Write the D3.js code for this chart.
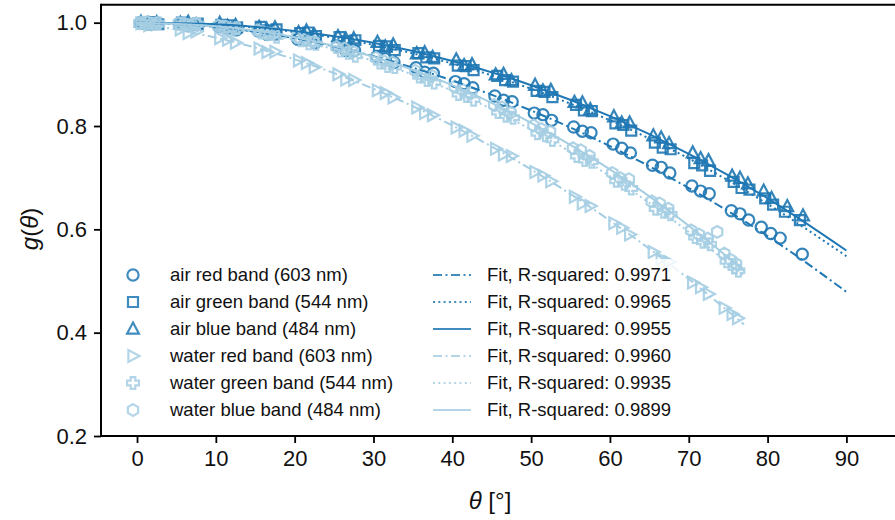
<!DOCTYPE html>
<html><head><meta charset="utf-8">
<script src="https://cdn.jsdelivr.net/npm/d3@7"></script>
<style>body{margin:0;background:#fff}svg{display:block}</style>
</head><body><svg id="c" width="895" height="520"></svg>
<script>
// ---------- DATA ----------
const xTicks = [0,10,20,30,40,50,60,70,80,90];
const yTicks = [0.2,0.4,0.6,0.8,1.0];

const airRedX = [0.4,1.5,2.6, 5.4,6.5,7.6, 10.4,11.5,12.6, 15.4,16.5,17.6, 20.4,21.5,22.6, 25.4,26.5,27.6, 30.4,31.5,32.6, 35.4,36.5,37.6, 40.4,41.5,42.6, 45.4,46.5,47.6, 50.4,51.5,52.6, 55.4,56.5,57.6, 60.4,61.5,62.6, 65.4,66.5,67.6, 70.4,71.5,72.6, 75.4,76.5,77.6, 79.2,80.4,81.6, 84.4];
const airRedY = [1.000,0.997,0.999, 0.999,0.994,0.996, 0.992,0.989,0.986, 0.984,0.977,0.978, 0.968,0.967,0.961, 0.955,0.946,0.946, 0.934,0.930,0.923, 0.913,0.904,0.902, 0.886,0.882,0.874, 0.858,0.850,0.847, 0.825,0.822,0.811, 0.798,0.790,0.787, 0.765,0.757,0.748, 0.724,0.720,0.709, 0.684,0.674,0.669, 0.636,0.630,0.618, 0.604,0.592,0.583, 0.552];

const airGreenX = [0.7,1.7,2.7, 5.7,6.7,7.7, 10.7,11.7,12.7, 15.7,16.7,17.7, 20.7,21.7,22.7, 25.7,26.7,27.7, 30.7,31.7,32.7, 35.7,36.7,37.7, 40.7,41.7,42.7, 45.7,46.7,47.7, 50.7,51.7,52.7, 55.7,56.7,57.7, 60.7,61.7,62.7, 65.7,66.7,67.7, 70.7,71.7,72.7, 75.7,76.7,77.7, 79.7,80.7,82.2, 84.1];
const airGreenY = [0.999,1.001,0.997, 1.000,0.996,0.998, 0.996,0.995,0.991, 0.992,0.985,0.987, 0.980,0.981,0.974, 0.972,0.964,0.966, 0.955,0.954,0.947, 0.941,0.933,0.931, 0.917,0.916,0.908, 0.897,0.889,0.886, 0.868,0.866,0.856, 0.841,0.830,0.829, 0.805,0.802,0.791, 0.768,0.758,0.755, 0.728,0.724,0.713, 0.692,0.680,0.677, 0.660,0.648,0.634, 0.618];

const airBlueX = [0.5,1.5,2.5, 5.5,6.5,7.5, 10.5,11.5,12.5, 15.5,16.5,17.5, 20.5,21.5,22.5, 25.5,26.5,27.5, 30.5,31.5,32.5, 35.5,36.5,37.5, 40.5,41.5,42.5, 45.5,46.5,47.5, 50.5,51.5,52.5, 55.5,56.5,57.5, 60.5,61.5,62.5, 65.5,66.5,67.5, 70.5,71.5,72.5, 75.5,76.5,77.5, 79.5,80.5,82.5, 84.5];
const airBlueY = [1.001,0.998,1.000, 0.999,1.001,0.996, 0.999,0.993,0.995, 0.991,0.986,0.990, 0.981,0.984,0.976, 0.973,0.968,0.969, 0.962,0.953,0.957, 0.940,0.942,0.933, 0.928,0.917,0.919, 0.899,0.900,0.888, 0.879,0.868,0.869, 0.846,0.845,0.832, 0.818,0.806,0.806, 0.781,0.777,0.766, 0.748,0.737,0.733, 0.703,0.699,0.688, 0.674,0.660,0.644, 0.626];

const waterRedX = [0.5,1.5,2.5, 5.5,6.5,7.5, 10.5,11.5,12.5, 15.5,16.5,17.5, 20.5,21.5,22.5, 25.5,26.5,27.5, 30.5,31.5,32.5, 35.5,36.5,37.5, 40.5,41.5,42.5, 45.5,46.5,47.5, 50.5,51.5,52.5, 55.5,56.5,57.5, 60.5,61.5,62.5, 65.5,66.5,67.5, 70.5,71.5,72.5, 74.5,75.5,76.2];
const waterRedY = [0.999,0.995,0.997, 0.987,0.980,0.983, 0.970,0.967,0.961, 0.950,0.943,0.944, 0.927,0.922,0.914, 0.900,0.890,0.889, 0.869,0.864,0.855, 0.836,0.825,0.821, 0.797,0.791,0.781, 0.756,0.745,0.742, 0.711,0.704,0.693, 0.663,0.650,0.645, 0.612,0.603,0.590, 0.556,0.543,0.537, 0.497,0.488,0.475, 0.448,0.436,0.428];

const waterGreenX = [0.8,1.8,2.7, 5.8,6.8,7.7, 10.8,11.8,12.7, 15.8,16.8,17.7, 20.8,21.8,22.7, 25.8,26.8,27.7, 30.8,31.8,32.7, 35.8,36.8,37.7, 40.8,41.8,42.7, 45.8,46.8,47.7, 50.8,51.8,52.7, 55.8,56.8,57.7, 60.8,61.8,62.7, 65.8,66.8,67.7, 70.8,71.8,72.7, 74.8,75.8,76.3];
const waterGreenY = [1.000,0.998,0.999, 0.998,0.995,0.997, 0.992,0.987,0.989, 0.981,0.978,0.973, 0.966,0.960,0.959, 0.946,0.942,0.936, 0.923,0.916,0.914, 0.896,0.889,0.884, 0.862,0.858,0.851, 0.827,0.820,0.816, 0.786,0.782,0.773, 0.742,0.734,0.731, 0.694,0.688,0.679, 0.640,0.634,0.629, 0.585,0.576,0.571, 0.538,0.526,0.520];

const waterBlueX = [0.3,1.3,2.4, 5.3,6.3,7.4, 10.3,11.3,12.4, 15.3,16.3,17.4, 20.3,21.3,22.4, 25.3,26.3,27.4, 30.3,31.3,32.4, 35.3,36.3,37.4, 40.3,41.3,42.4, 45.3,46.3,47.4, 50.3,51.3,52.4, 55.3,56.3,57.4, 60.3,61.3,62.4, 65.3,66.3,67.4, 70.3,71.3,72.4, 73.6, 74.5,75.3,76.0];
const waterBlueY = [0.999,1.001,0.998, 0.999,0.996,0.998, 0.994,0.992,0.988, 0.985,0.979,0.980, 0.972,0.967,0.963, 0.953,0.950,0.944, 0.932,0.925,0.923, 0.907,0.898,0.897, 0.876,0.870,0.864, 0.841,0.836,0.826, 0.801,0.794,0.789, 0.757,0.753,0.742, 0.709,0.699,0.697, 0.654,0.650,0.640, 0.598,0.590,0.582, 0.595, 0.553,0.541,0.533];

const fitAirX = [0,10,20,30,40,50,60,70,80,90];
const fitAirRed = [1.000,0.992,0.970,0.935,0.888,0.830,0.761,0.680,0.587,0.479];
const fitAirGreen = [1.000,0.996,0.982,0.957,0.921,0.872,0.811,0.737,0.649,0.548];
const fitAirBlue = [1.000,0.997,0.984,0.961,0.926,0.879,0.819,0.746,0.660,0.559];
const fitWaterX = [0,10,20,30,40,50,60,70,77];
const fitWaterRed = [1.000,0.971,0.929,0.872,0.801,0.716,0.617,0.504,0.416];
const fitWaterGreen = [1.000,0.992,0.967,0.926,0.868,0.793,0.703,0.595,0.510];
const fitWaterBlue = [1.000,0.993,0.972,0.934,0.879,0.806,0.716,0.607,0.520];

const seriesLabels = ["air red band (603 nm)","air green band (544 nm)","air blue band (484 nm)","water red band (603 nm)","water green band (544 nm)","water blue band (484 nm)"];
const fitLabels = ["Fit, R-squared: 0.9971","Fit, R-squared: 0.9965","Fit, R-squared: 0.9955","Fit, R-squared: 0.9960","Fit, R-squared: 0.9935","Fit, R-squared: 0.9899"];

// ---------- STYLE ----------
const DARK = "#1f78b4", LIGHT = "#a6cee3";
const FONT = "'Liberation Sans', Arial, Helvetica, sans-serif";

const svg = d3.select("#c");
const x = d3.scaleLinear().domain([-4.57, 96.8]).range([101, 900]);
const y = d3.scaleLinear().domain([0.2, 1.0348]).range([436, 4.7]);

// marker shapes
function shape(kind){
  switch(kind){
    case "circle": return "M5.6,0A5.6,5.6 0 1,1 -5.6,0A5.6,5.6 0 1,1 5.6,0Z";
    case "square": return "M-5,-5H5V5H-5Z";
    case "triUp": return "M0,-6.5L5.9,4.6L-5.9,4.6Z";
    case "triRight": return "M6.5,0L-4.6,-5.9L-4.6,5.9Z";
    case "plus": {const a=5.9,t=2.3; return `M${-t},${-a}H${t}V${-t}H${a}V${t}H${t}V${a}H${-t}V${t}H${-a}V${-t}H${-t}Z`;}
    case "hex": {const r=5.9; let p=[]; for(let i=0;i<6;i++){const ang=Math.PI/3*i - Math.PI/2; p.push([r*Math.cos(ang), r*Math.sin(ang)]);} return "M"+p.map(d=>d[0].toFixed(2)+","+d[1].toFixed(2)).join("L")+"Z";}
  }
}

const series = [
  {xs:airRedX, ys:airRedY, c:DARK, m:"circle", fx:fitAirX, fy:fitAirRed, dash:"9,3.5,2,3.5"},
  {xs:airGreenX, ys:airGreenY, c:DARK, m:"square", fx:fitAirX, fy:fitAirGreen, dash:"2,3.3"},
  {xs:airBlueX, ys:airBlueY, c:DARK, m:"triUp", fx:fitAirX, fy:fitAirBlue, dash:null},
  {xs:waterRedX, ys:waterRedY, c:LIGHT, m:"triRight", fx:fitWaterX, fy:fitWaterRed, dash:"9,3.5,2,3.5"},
  {xs:waterGreenX, ys:waterGreenY, c:LIGHT, m:"plus", fx:fitWaterX, fy:fitWaterGreen, dash:"2,3.3"},
  {xs:waterBlueX, ys:waterBlueY, c:LIGHT, m:"hex", fx:fitWaterX, fy:fitWaterBlue, dash:null}
];

svg.append("defs").append("clipPath").attr("id","clip")
  .append("rect").attr("x",101).attr("y",4.7).attr("width",800).attr("height",436-4.7);

const plot = svg.append("g").attr("clip-path","url(#clip)");

// scatter markers
series.forEach(s=>{
  plot.append("g").selectAll("path").data(s.xs.map((v,i)=>[v,s.ys[i]])).join("path")
    .attr("d", shape(s.m))
    .attr("transform", d=>`translate(${x(d[0])},${y(d[1])})`)
    .attr("fill","none").attr("stroke", s.c).attr("stroke-width",2.2).attr("stroke-opacity",0.9);
});

// fit lines
const line = d3.line().curve(d3.curveMonotoneX).x(d=>x(d[0])).y(d=>y(d[1]));
series.forEach(s=>{
  plot.append("path").datum(s.fx.map((v,i)=>[v,s.fy[i]]))
    .attr("d", line).attr("fill","none").attr("stroke", s.c).attr("stroke-width",2)
    .attr("stroke-dasharray", s.dash);
});

// axes
const xAxis = svg.append("g").attr("transform","translate(0,436)")
  .call(d3.axisBottom(x).tickValues(xTicks).tickSize(7).tickPadding(7).tickFormat(d3.format("d")));
const yAxis = svg.append("g").attr("transform","translate(101,0)")
  .call(d3.axisLeft(y).tickValues(yTicks).tickSize(7).tickPadding(7).tickFormat(d3.format(".1f")));
[xAxis,yAxis].forEach(a=>{
  a.select(".domain").remove();
  a.selectAll(".tick line").attr("stroke","#000").attr("stroke-width",1.8);
  a.selectAll(".tick text").attr("font-family",FONT).attr("font-size",22).attr("fill","#111");
});

// spines
svg.append("line").attr("x1",101).attr("x2",895).attr("y1",436).attr("y2",436).attr("stroke","#000").attr("stroke-width",2);
svg.append("line").attr("x1",101).attr("x2",895).attr("y1",4.7).attr("y2",4.7).attr("stroke","#000").attr("stroke-width",2);
svg.append("line").attr("x1",101).attr("x2",101).attr("y1",3.7).attr("y2",437).attr("stroke","#000").attr("stroke-width",2);

// axis labels
const xl = svg.append("text").attr("x",490).attr("y",509).attr("text-anchor","middle")
  .attr("font-family",FONT).attr("font-size",24).attr("fill","#111");
xl.append("tspan").attr("font-style","italic").text("θ");
xl.append("tspan").text(" [°]");
const yl = svg.append("text").attr("transform","translate(38,229) rotate(-90)").attr("text-anchor","middle")
  .attr("font-family",FONT).attr("font-size",24).attr("fill","#111");
yl.append("tspan").attr("font-style","italic").text("g");
yl.append("tspan").text("(");
yl.append("tspan").attr("font-style","italic").text("θ");
yl.append("tspan").text(")");

// legend
const rowY = d3.range(6).map(i=>275 + i*27);
const leg = svg.append("g");
leg.append("rect").attr("x",112).attr("y",259).attr("width",568).attr("height",166).attr("fill","#fff").attr("fill-opacity",0.8);
series.forEach((s,i)=>{
  leg.append("path").attr("d",shape(s.m)).attr("transform",`translate(133,${rowY[i]})`)
    .attr("fill","none").attr("stroke",s.c).attr("stroke-width",2.2).attr("stroke-opacity",0.85);
  leg.append("text").attr("x",170).attr("y",rowY[i]).attr("dy","0.35em")
    .attr("font-family",FONT).attr("font-size",18.5).attr("fill","#111").text(seriesLabels[i]);
  leg.append("line").attr("x1",433).attr("x2",471).attr("y1",rowY[i]).attr("y2",rowY[i])
    .attr("stroke",s.c).attr("stroke-width",2).attr("stroke-opacity",0.85).attr("stroke-dasharray",s.dash);
  leg.append("text").attr("x",487).attr("y",rowY[i]).attr("dy","0.35em")
    .attr("font-family",FONT).attr("font-size",18.5).attr("fill","#111").text(fitLabels[i]);
});
</script></body></html>
